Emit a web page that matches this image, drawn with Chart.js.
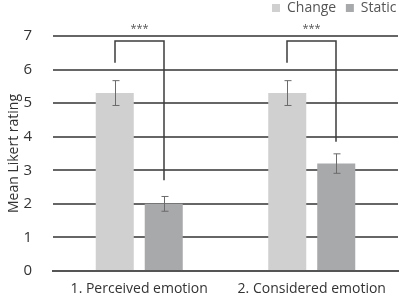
<!DOCTYPE html>
<html>
<head>
<meta charset="utf-8">
<script src="https://cdn.jsdelivr.net/npm/chart.js@4/dist/chart.umd.min.js"></script>
<style>
  html, body { margin: 0; padding: 0; background: #fff; }
  #wrap { width: 399px; height: 301px; }
</style>
</head>
<body>
<div id="wrap"><canvas id="likertChart" width="399" height="301"></canvas></div>
<script>
const categories = ['1. Perceived emotion', '2. Considered emotion'];
const changeValues = [5.3, 5.3];
const changeErrors = [0.37, 0.37];
const staticValues = [2.0, 3.2];
const staticErrors = [0.22, 0.29];
const yTicks = [0, 1, 2, 3, 4, 5, 6, 7];
// significance brackets: [top, left end, right end] per category
const bracketTop = [6.85, 6.85];
const bracketLeftEnd = [6.2, 6.2];
const bracketRightEnd = [2.7, 3.85];
const bracketLabels = ['***', '***'];

const fontFamily = '"Open Sans", "Noto Sans", sans-serif';

// error bars + significance brackets, drawn through the chart scales
const annotations = {
  id: 'annotations',
  afterLayout(chart) {
    // nudge the legend into the top right corner
    const lg = chart.legend;
    lg.top -= 11;
    lg.right = 272 + lg.lineWidths[0];
  },
  afterDatasetsDraw(chart) {
    const { ctx, scales: { y } } = chart;
    const errs = [changeErrors, staticErrors];
    ctx.save();
    ctx.strokeStyle = '#6b6b6b';
    ctx.lineWidth = 1;
    chart.data.datasets.forEach((ds, di) => {
      const meta = chart.getDatasetMeta(di);
      meta.data.forEach((bar, i) => {
        const v = ds.data[i];
        const top = y.getPixelForValue(v + errs[di][i]);
        const bot = y.getPixelForValue(v - errs[di][i]);
        const x = Math.round(bar.x) + 0.5;
        ctx.beginPath();
        ctx.moveTo(x, top); ctx.lineTo(x, bot);
        ctx.moveTo(x - 3, top); ctx.lineTo(x + 4, top);
        ctx.moveTo(x - 3, bot); ctx.lineTo(x + 4, bot);
        ctx.stroke();
      });
    });

    const m0 = chart.getDatasetMeta(0);
    const m1 = chart.getDatasetMeta(1);
    ctx.strokeStyle = '#3c3c3c';
    ctx.lineWidth = 1.5;
    categories.forEach((c, i) => {
      const xl = Math.round(m0.data[i].x);
      const xr = Math.round(m1.data[i].x);
      const yt = y.getPixelForValue(bracketTop[i]);
      ctx.beginPath();
      ctx.moveTo(xl, y.getPixelForValue(bracketLeftEnd[i]));
      ctx.lineTo(xl, yt);
      ctx.lineTo(xr, yt);
      ctx.lineTo(xr, y.getPixelForValue(bracketRightEnd[i]));
      ctx.stroke();
      ctx.fillStyle = '#555';
      ctx.font = '11px ' + fontFamily;
      ctx.textAlign = 'center';
      ctx.textBaseline = 'middle';
      ctx.fillText(bracketLabels[i], (xl + xr) / 2, yt - 12);
    });
    ctx.restore();
  }
};

const ctx = document.getElementById('likertChart').getContext('2d');
new Chart(ctx, {
  type: 'bar',
  data: {
    labels: categories,
    datasets: [
      {
        label: 'Change',
        data: changeValues,
        backgroundColor: '#d0d0d1',
        categoryPercentage: 0.568,
        barPercentage: 0.776,
      },
      {
        label: 'Static',
        data: staticValues,
        backgroundColor: '#a8a9ab',
        categoryPercentage: 0.568,
        barPercentage: 0.776,
      },
    ],
  },
  options: {
    responsive: false,
    animation: false,
    layout: { padding: { top: 6, right: 1, bottom: 0, left: 4 } },
    plugins: {
      tooltip: { enabled: false },
      legend: {
        position: 'top',
        align: 'end',
        labels: {
          boxWidth: 8,
          boxHeight: 8,
          padding: 6,
          color: '#555',
          font: { family: fontFamily, size: 14 },
          generateLabels: (chart) =>
            Chart.defaults.plugins.legend.labels.generateLabels(chart).map((l, i) => ({
              ...l,
              text: i === 0 ? l.text + ' ' : l.text,
              lineWidth: 0,
            })),
        },
      },
    },
    scales: {
      x: {
        grid: { display: false, drawTicks: false },
        border: { color: '#555', width: 2 },
        afterFit: (axis) => { axis.height = 30; },
        ticks: {
          color: '#333',
          padding: 10,
          font: { family: fontFamily, size: 14 },
        },
      },
      y: {
        min: 0,
        max: 7,
        afterBuildTicks: (axis) => {
          axis.ticks = yTicks.map((v) => ({ value: v }));
        },
        afterFit: (axis) => { axis.width = 49; },
        grid: { color: '#666', lineWidth: 2, drawTicks: false },
        border: { display: false },
        ticks: {
          color: '#333',
          padding: 21,
          font: { family: fontFamily, size: 15 },
        },
        title: {
          display: true,
          text: 'Mean Likert rating',
          color: '#333',
          font: { family: fontFamily, size: 14 },
          padding: { top: 2, bottom: 0 },
        },
      },
    },
  },
  plugins: [annotations],
});
</script>
</body>
</html>
